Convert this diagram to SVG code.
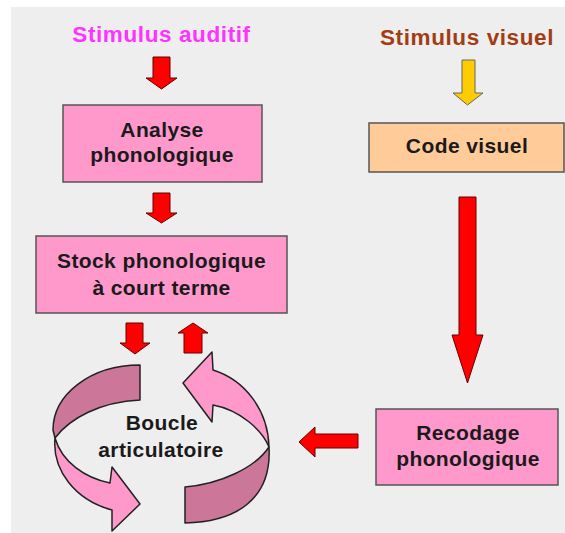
<svg xmlns="http://www.w3.org/2000/svg" width="565" height="533" viewBox="0 0 565 533">
<style>
text{font-family:"Liberation Sans",Arial,sans-serif;font-weight:bold;text-anchor:middle}
.lbl{font-size:21px;letter-spacing:0.4px;fill:#1a1a1a}
.title{font-size:22.5px;letter-spacing:0.6px}
.box{stroke:#555;stroke-width:1.5}
.pink{fill:#ff99cc}
.red{fill:#ff0000;stroke:#660000;stroke-width:1}
.loopL{fill:#ff99cc;stroke:#222;stroke-width:1.5;stroke-linejoin:round}
.loopD{fill:#cc7799;stroke:#222;stroke-width:1.5;stroke-linejoin:round}
</style>
<rect x="0" y="0" width="565" height="533" fill="#ffffff"/>
<rect x="11" y="7" width="554" height="526" fill="#eeeeee"/>

<g id="stimulus-auditif"><text class="title" x="161.5" y="42" fill="#ff33ff">Stimulus auditif</text></g>
<g id="stimulus-visuel"><text class="title" x="467" y="45" fill="#a33c14">Stimulus visuel</text></g>

<g id="analyse">
<rect class="box pink" x="63" y="105" width="199" height="77"/>
<text class="lbl" x="162" y="137">Analyse</text>
<text class="lbl" x="162" y="162">phonologique</text>
</g>

<g id="stock">
<rect class="box pink" x="36" y="236" width="251" height="77"/>
<text class="lbl" x="161.5" y="268">Stock phonologique</text>
<text class="lbl" x="161.5" y="295">à court terme</text>
</g>

<g id="code-visuel">
<rect class="box" x="369" y="123" width="195" height="49" fill="#ffcc99"/>
<text class="lbl" x="467" y="153">Code visuel</text>
</g>

<g id="recodage">
<rect class="box pink" x="376" y="409" width="182" height="76"/>
<text class="lbl" x="468" y="440">Recodage</text>
<text class="lbl" x="468" y="466">phonologique</text>
</g>

<g id="boucle">
<path class="loopD" d="M140,365 C90,365 53,395 53,430 L55,438 C70,418 100,402 140,400 Z"/>
<path class="loopL" d="M55,438 C52,470 75,500 112,510 L112,531 L140,504 L112,467 L110,483 C85,478 62,462 55,438 Z"/>
<path class="loopL" d="M183,383 L212,352 L213,370 C245,380 268,410 269,447 C262,430 240,410 213,405 L212,422 Z"/>
<path class="loopD" d="M269,447 C272,500 235,522 185,523 L185,487 C220,484 255,468 269,447 Z"/>
<text class="lbl" x="162" y="430">Boucle</text>
<text class="lbl" x="161" y="457">articulatoire</text>
</g>

<g id="connectors">
<path class="red" d="M153,57 H170 V78 H177 L161.5,89 L146,78 H153 Z"/>
<path class="red" d="M153,193 H170 V213 H177 L161.5,223 L146,213 H153 Z"/>
<path class="red" d="M126,323 H143 V343 H150 L135,354 L120,343 H126 Z"/>
<path class="red" d="M184,353 H202 V333 H208 L193,323 L178,333 H184 Z"/>
<path d="M462,60 H475 V93 H483 L467.5,105 L453,93 H462 Z" fill="#ffcc00" stroke="#666" stroke-width="1"/>
<path class="red" d="M459,197 H476 V335 H483 L467.5,383 L452,335 H459 Z"/>
<path class="red" d="M358,434 V448 H315 V457 L299,442 L315,427 V434 Z"/>
</g>
</svg>
